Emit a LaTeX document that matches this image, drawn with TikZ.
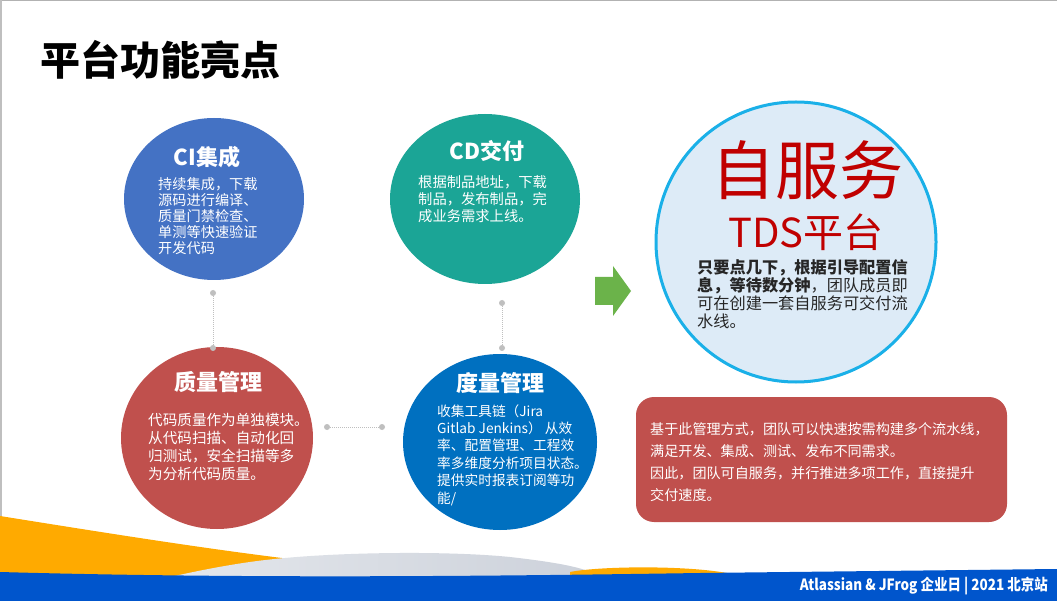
\documentclass[tikz,border=0pt]{standalone}
\usepackage{fontspec}
\setmainfont{Noto Sans CJK SC}
\usetikzlibrary{shapes.geometric}
\definecolor{ciblue}{HTML}{4472C4}
\definecolor{cdteal}{HTML}{1BA596}
\definecolor{qred}{HTML}{C0504D}
\definecolor{mblue}{HTML}{0070C0}
\definecolor{selffill}{HTML}{DDEBF7}
\definecolor{selfline}{HTML}{1AB0E8}
\definecolor{bigred}{HTML}{C00000}
\definecolor{dotgray}{HTML}{BFBFBF}
\definecolor{arrowgreen}{HTML}{6BB34A}
\definecolor{wave}{HTML}{FFAA00}
\definecolor{band}{HTML}{0055CC}
\definecolor{domeA}{HTML}{E4E7EC}
\definecolor{domeB}{HTML}{CDD2DB}
\tikzset{
  bubble/.style={ellipse, inner sep=0pt, draw=none},
  btitle/.style={font=\bfseries\fontsize{22}{26}\selectfont, text=white, inner sep=0pt},
  bbody/.style={align=left, text=white, inner sep=0pt, anchor=west},
  linkdot/.style={circle, fill=dotgray, inner sep=0pt, minimum size=6pt},
  link/.style={draw=dotgray, densely dotted, line width=1pt},
}
\begin{document}
\begin{tikzpicture}[x=1pt,y=-1pt]
\useasboundingbox (0,0) rectangle (1057,601);
\fill[white] (0,0) rectangle (1057,601);
\draw[gray!60, line width=1.5pt] (0,0.75) -- (1057,0.75);
\draw[gray!50, line width=1.5pt] (0.75,0) -- (0.75,580);

% title
\node[anchor=west, inner sep=0pt, font=\bfseries\fontsize{40}{44}\selectfont] (title) at (40,60) {平台功能亮点};

% bottom decoration
\fill[wave] (0,516) .. controls (100,532) and (200,548) .. (290,559) -- (290,585) -- (0,585) -- cycle;
\shade[left color=domeA, right color=domeB] (170,577) .. controls (215,567) and (250,561) .. (285,558) .. controls (350,552) and (450,551) .. (510,557) .. controls (545,561) and (570,565) .. (585,570) -- (585,585) -- (170,585) -- cycle;
\fill[wave] (570,572) .. controls (600,566) and (690,565) .. (732,574) -- (732,585) -- (570,585) -- cycle;
\fill[band] (0,572) .. controls (250,579) and (500,576) .. (700,573) -- (1057,569) -- (1057,601) -- (0,601) -- cycle;
\node[anchor=east, inner sep=0pt, text=white, font=\bfseries\fontsize{15.5}{17}\selectfont] (footer) at (1048,586) {\scalebox{0.87}[1]{Atlassian \& JFrog 企业日 | 2021 北京站}};

% bubbles
\node[bubble, fill=ciblue, minimum width=180pt, minimum height=162pt] (ci) at (214,199) {};
\node[bubble, fill=cdteal, minimum width=190pt, minimum height=170pt] (cd) at (485,199) {};
\node[bubble, fill=qred, minimum width=192pt, minimum height=182pt] (qm) at (217,438) {};
\node[bubble, fill=mblue, minimum width=194pt, minimum height=176pt] (mm) at (500,442) {};
\node[bubble, fill=selffill, draw=selfline, line width=3pt, minimum width=280pt, minimum height=280pt] (self) at (796,242) {};

% bubble titles
\node[btitle] (citl) at (207,157) {CI集成};
\node[btitle] (cdtl) at (487,151) {CD交付};
\node[btitle] (qmtl) at (218,382) {质量管理};
\node[btitle] (mmtl) at (500,383) {度量管理};

% bubble bodies
\node[bbody, font=\fontsize{14.2}{16}\selectfont] (cibd) at (158,216) {持续集成，下载\\源码进行编译、\\质量门禁检查、\\单测等快速验证\\开发代码};
\node[bbody, font=\fontsize{14.3}{17}\selectfont] (cdbd) at (418,199) {根据制品地址，下载\\制品，发布制品，完\\成业务需求上线。};
\node[bbody, font=\fontsize{14.6}{18}\selectfont] (qmbd) at (148,447) {代码质量作为单独模块。\\从代码扫描、自动化回\\归测试，安全扫描等多\\为分析代码质量。};
\node[bbody, font=\fontsize{13.7}{17.4}\selectfont] (mmbd) at (437,455) {收集工具链（Jira\\Gitlab Jenkins） 从效\\率、配置管理、工程效\\率多维度分析项目状态。\\提供实时报表订阅等功\\能/};

% self-service content
\node[inner sep=0pt, text=bigred, font=\fontsize{64}{70}\selectfont] (selft) at (807,170) {自服务};
\node[inner sep=0pt, text=bigred, font=\fontsize{40}{44}\selectfont] (selfs) at (806,232) {TDS平台};
\node[align=left, inner sep=0pt, anchor=west, text=black!85, font=\fontsize{16.2}{17.8}\selectfont] (selfbd) at (697,294) {{\bfseries 只要点几下，根据引导配置信}\\{\bfseries 息，等待数分钟}，团队成员即\\可在创建一套自服务可交付流\\水线。};

% arrow
\fill[arrowgreen] (595,277) -- (613,277) -- (613,266) -- (631,291) -- (613,316) -- (613,305) -- (595,305) -- cycle;

% note box
\node[fill=qred, rounded corners=18pt, minimum width=371pt, minimum height=125pt, inner sep=0pt] (note) at (821.5,459.5) {};
\node[bbody, font=\fontsize{14.1}{22}\selectfont] (notebd) at (650,462) {基于此管理方式，团队可以快速按需构建多个流水线，\\满足开发、集成、测试、发布不同需求。\\因此，团队可自服务，并行推进多项工作，直接提升\\交付速度。};

% connectors
\node[linkdot] (d1a) at (213,293) {};
\node[linkdot] (d1b) at (213,348) {};
\node[linkdot] (d2a) at (502,303) {};
\node[linkdot] (d2b) at (502,348) {};
\node[linkdot] (d3a) at (327,427) {};
\node[linkdot] (d3b) at (382,427) {};
\draw[link] (d1a) -- (d1b);
\draw[link] (d2a) -- (d2b);
\draw[link] (d3a) -- (d3b);
\end{tikzpicture}
\end{document}
